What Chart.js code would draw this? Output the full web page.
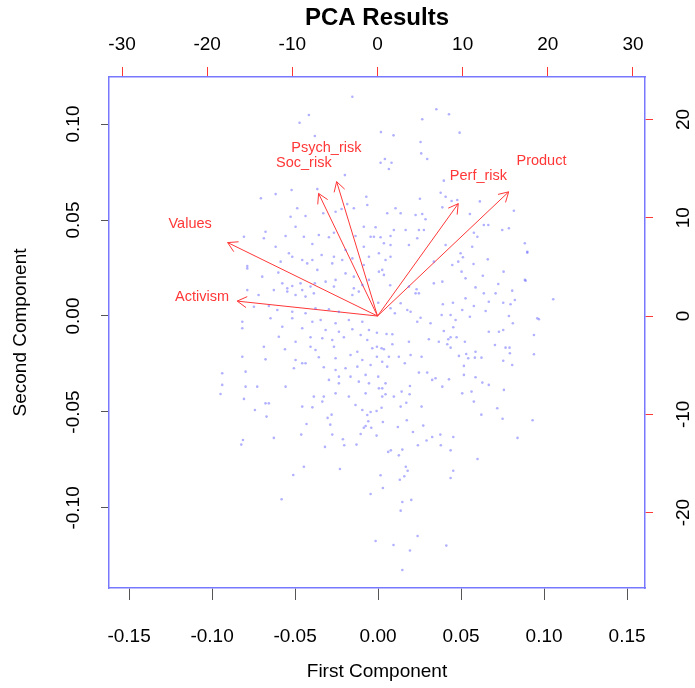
<!DOCTYPE html>
<html>
<head>
<meta charset="utf-8">
<script src="https://cdn.jsdelivr.net/npm/chart.js@4"></script>
<style>
  body { margin: 0; background: #fff; }
  canvas { display: block; }
</style>
</head>
<body>
<canvas id="biplot" width="695" height="688"></canvas>
<script>
// Scores (first / second component), read on the bottom and left axes
const scoresX = [
  -0.0155, -0.0417, -0.0473, -0.0381, -0.0200, -0.0521, -0.0617, -0.0366, -0.0706, -0.0071,
  -0.0186, -0.0487, -0.0220, -0.0065, -0.0330, -0.0527, -0.0437, -0.0256, -0.0497, -0.0678,
  -0.0808, -0.0557, -0.0447, -0.0357, -0.0296, -0.0266, -0.0136, -0.0045, -0.0688, -0.0617,
  -0.0396, -0.0086, -0.0788, -0.0698, -0.0788, -0.0628, -0.0720,
  0.0351, 0.0427, 0.0266, 0.0017, 0.0093, 0.0491, 0.0256, 0.0260, 0.0296, 0.0041,
  0.0015, 0.0081, 0.0065, 0.0396, 0.0377, 0.0407, 0.0443, 0.0477, 0.0252, 0.0613,
  0.0387, 0.0818, 0.0105, 0.0136, 0.0226, 0.0266, 0.0553, 0.0286, 0.0637, 0.0664,
  0.0788, 0.0748, 0.0166, 0.0246, 0.0276, 0.0577, 0.0598, 0.0075, 0.0015, 0.0236,
  0.0186, 0.0407, 0.0567, 0.0884, 0.0075, -0.0015,
  0.1055, 0.0899, 0.0959, 0.0889,
  -0.0788, -0.0601, -0.0537, -0.0457, -0.0396, -0.0340, -0.0276, -0.0216, -0.0155, -0.0055,
  -0.0577, -0.0517, -0.0547, -0.0457, -0.0407, -0.0381, -0.0316, -0.0256, -0.0196, -0.0146,
  -0.0095, -0.0055, -0.0497, -0.0437, -0.0387, -0.0155, -0.0116, -0.0748, -0.0658, -0.0607,
  -0.0517, -0.0437, -0.0377, -0.0296, -0.0236, -0.0818, -0.0648, -0.0517, -0.0396, -0.0346,
  -0.0256, -0.0176, -0.0095, -0.0577, -0.0457, -0.0316, -0.0236, -0.0155, -0.0055, -0.0598,
  -0.0497, -0.0407, -0.0336, -0.0276, -0.0206, -0.0105, -0.0065, -0.0688, -0.0561, -0.0407,
  -0.0377, -0.0266, -0.0125, -0.0035, -0.0818, -0.0678, -0.0497, -0.0457, -0.0437, -0.0357,
  -0.0256, -0.0166, -0.0095, -0.0045, -0.0507, -0.0327, -0.0256, -0.0196, -0.0125, -0.0939,
  -0.0798, -0.0236, -0.0166, -0.0075, -0.0939, -0.0798, -0.0728, -0.0557, -0.0296, -0.0236,
  -0.0116, -0.0055, -0.0949, -0.0387, -0.0327, -0.0256, -0.0176, -0.0075, -0.0678, -0.0658,
  -0.0457, -0.0396, -0.0336, -0.0136, -0.0818,
  0.0497, 0.0511, 0.0899, 0.0005, 0.0045, 0.0336, 0.0447, 0.0483, 0.0575, 0.0661,
  0.0756, 0.0005, 0.0035, 0.0503, 0.0527, 0.0631, 0.0884, 0.0073, 0.0186, 0.0336,
  0.0387, 0.0724, 0.0232, 0.0587, 0.0808, 0.0226, 0.0246, 0.0527, 0.0637, 0.0708,
  0.0824, 0.0001, 0.0136, 0.0390, 0.0451, 0.0577, 0.0667, 0.0754, 0.0798, 0.0075,
  0.0176, 0.0507, 0.0648, 0.0196, 0.0101, 0.0383, 0.0437, 0.0553, 0.0788, 0.0969,
  0.0256, 0.0316, 0.0467, 0.0812, 0.0236, 0.0453, 0.0396, 0.0667, 0.0728, 0.0754,
  -0.0007, 0.0051, 0.0086, 0.0437, 0.0473, 0.0306, 0.0939, 0.0186, 0.0366, 0.0423,
  0.0523, 0.0417, 0.0704, 0.0086, -0.0007, 0.0021, 0.0035, 0.0437, 0.0768, 0.0792,
  0.0196, 0.0587, 0.0487, 0.0531, -0.0007, 0.0065, 0.0125, 0.0262, 0.0543, 0.0583,
  0.0623, 0.0794, 0.0939, 0.0025, 0.0161, 0.0754, 0.0517, 0.0808, 0.0055, 0.0246,
  0.0296, 0.0001, 0.0346, 0.0517, 0.0587, 0.0326, 0.0427, 0.0628, 0.0045, 0.0192,
  0.0667, 0.0005, 0.0025, 0.0387, 0.0758, 0.0045, 0.0095, 0.0190, 0.0507, 0.0142,
  0.0563, 0.0025, 0.0170, 0.0577, 0.0021, 0.0262, 0.0718, 0.0136,
  -0.0742, -0.0672, -0.0280, -0.0304, -0.0045, -0.0065, -0.0095, -0.0059, -0.0431, -0.0288,
  -0.0075, -0.0041, -0.0086, -0.0628, -0.0463, -0.0276, -0.0105, -0.0814, -0.0824, -0.0212,
  -0.0320, -0.0204, -0.0130, -0.0447, -0.0230, -0.0511, -0.0045, -0.0581, -0.0015,
  -0.0009, 0.0029, 0.0173, 0.0272, 0.0119, 0.0210, 0.0622, 0.0750, 0.0931, -0.0009,
  0.0326, 0.0375, 0.0453, 0.0292, 0.0840, 0.0240, 0.0378, 0.0077, 0.0061, 0.0146,
  0.0437, 0.0125, 0.0599, 0.0167, 0.0178, 0.0453, 0.0015, 0.0158, 0.0437, 0.0131,
  0.0029, 0.0200, 0.0146, 0.0136, 0.0238, 0.0093, 0.0411, 0.0192, 0.0146,
  -0.0808,
  -0.0196, -0.0086, -0.0146, -0.0266, 0.0025, 0.0075, 0.0095, 0.0055, -0.0146, -0.0086,
  -0.0025, 0.0035, -0.0266, -0.0366, -0.0427, -0.0517, -0.0587, -0.0467, -0.0547
];
const scoresY = [
  0.1142, 0.1047, 0.1007, 0.0938, 0.0734, 0.0656, 0.0635, 0.0661, 0.0613, 0.0621,
  0.0583, 0.0561, 0.0557, 0.0578, 0.0535, 0.0517, 0.0521, 0.0543, 0.0465, 0.0439,
  0.0413, 0.0417, 0.0413, 0.0422, 0.0410, 0.0434, 0.0417, 0.0413, 0.0405, 0.0361,
  0.0375, 0.0361, 0.0248, 0.0205, 0.0135, 0.0135, 0.0109,
  0.1077, 0.1051, 0.1025, 0.0958, 0.0941, 0.0955, 0.0906, 0.0847, 0.0818, 0.0818,
  0.0798, 0.0798, 0.0766, 0.0705, 0.0642, 0.0621, 0.0599, 0.0604, 0.0611, 0.0597,
  0.0566, 0.0548, 0.0561, 0.0535, 0.0526, 0.0531, 0.0531, 0.0504, 0.0474, 0.0474,
  0.0457, 0.0448, 0.0448, 0.0448, 0.0448, 0.0434, 0.0413, 0.0417, 0.0410, 0.0405,
  0.0370, 0.0370, 0.0361, 0.0379, 0.0370, 0.0462,
  0.0087, 0.0330, -0.0012, 0.0184,
  0.0260, 0.0226, 0.0327, 0.0292, 0.0292, 0.0318, 0.0274, 0.0292, 0.0300, 0.0309,
  0.0170, 0.0156, 0.0127, 0.0135, 0.0153, 0.0170, 0.0179, 0.0188, 0.0222, 0.0144,
  0.0161, 0.0188, 0.0109, 0.0101, 0.0118, 0.0109, 0.0127, 0.0048, 0.0052, 0.0031,
  0.0022, 0.0014, 0.0040, 0.0035, 0.0022, -0.0030, -0.0012, -0.0012, -0.0030, -0.0021,
  -0.0038, -0.0021, -0.0030, -0.0056, -0.0064, -0.0073, -0.0082, -0.0069, -0.0073, -0.0108,
  -0.0134, -0.0111, -0.0116, -0.0125, -0.0111, -0.0099, -0.0125, -0.0160, -0.0173, -0.0160,
  -0.0177, -0.0160, -0.0186, -0.0168, -0.0212, -0.0226, -0.0229, -0.0246, -0.0246, -0.0215,
  -0.0220, -0.0203, -0.0229, -0.0255, -0.0272, -0.0267, -0.0281, -0.0272, -0.0264, -0.0298,
  -0.0290, -0.0316, -0.0316, -0.0307, -0.0359, -0.0368, -0.0368, -0.0368, -0.0333, -0.0351,
  -0.0342, -0.0351, -0.0406, -0.0420, -0.0420, -0.0403, -0.0420, -0.0403, -0.0455, -0.0455,
  -0.0472, -0.0476, -0.0446, -0.0464, -0.0064,
  0.0327, 0.0306, 0.0335, 0.0327, 0.0292, 0.0283, 0.0266, 0.0283, 0.0271, 0.0295,
  0.0231, 0.0231, 0.0214, 0.0231, 0.0196, 0.0210, 0.0188, 0.0160, 0.0153, 0.0170,
  0.0179, 0.0167, 0.0139, 0.0149, 0.0132, 0.0118, 0.0118, 0.0092, 0.0118, 0.0118,
  0.0083, 0.0069, 0.0066, 0.0061, 0.0069, 0.0052, 0.0074, 0.0069, 0.0061, 0.0040,
  0.0031, 0.0031, 0.0026, 0.0022, 0.0014, 0.0005, 0.0005, -0.0004, 0.0000, -0.0017,
  -0.0009, -0.0038, -0.0021, -0.0038, -0.0030, -0.0059, -0.0078, -0.0082, -0.0082, -0.0073,
  -0.0087, -0.0094, -0.0095, -0.0111, -0.0111, -0.0121, -0.0099, -0.0134, -0.0134, -0.0121,
  -0.0134, -0.0147, -0.0151, -0.0147, -0.0160, -0.0168, -0.0173, -0.0165, -0.0165, -0.0165,
  -0.0203, -0.0186, -0.0208, -0.0198, -0.0212, -0.0212, -0.0212, -0.0212, -0.0220, -0.0217,
  -0.0217, -0.0194, -0.0199, -0.0238, -0.0246, -0.0233, -0.0260, -0.0255, -0.0264, -0.0295,
  -0.0295, -0.0316, -0.0324, -0.0307, -0.0319, -0.0333, -0.0330, -0.0347, -0.0351, -0.0365,
  -0.0359, -0.0377, -0.0377, -0.0368, -0.0385, -0.0408, -0.0420, -0.0408, -0.0403, -0.0394,
  -0.0394, -0.0420, -0.0452, -0.0446, -0.0478, -0.0472, -0.0481, -0.0472,
  -0.0490, -0.0524, -0.0514, -0.0531, -0.0500, -0.0516, -0.0490, -0.0548, -0.0563, -0.0566,
  -0.0573, -0.0582, -0.0582, -0.0635, -0.0618, -0.0618, -0.0615, -0.0646, -0.0670, -0.0642,
  -0.0682, -0.0673, -0.0670, -0.0785, -0.0797, -0.0828, -0.0927, -0.0955, -0.1172,
  -0.0495, -0.0552, -0.0543, -0.0571, -0.0578, -0.0604, -0.0514, -0.0535, -0.0543, -0.0623,
  -0.0630, -0.0618, -0.0630, -0.0649, -0.0635, -0.0673, -0.0673, -0.0700, -0.0708, -0.0696,
  -0.0700, -0.0726, -0.0745, -0.0785, -0.0806, -0.0806, -0.0830, -0.0835, -0.0844, -0.0853,
  -0.0896, -0.0958, -0.0969, -0.1014, -0.1146, -0.1193, -0.1196, -0.1222, -0.1323,
  -0.0432,
  0.0344, 0.0266, 0.0205, 0.0153, 0.0240, 0.0309, 0.0448, 0.0535, 0.0561, 0.0465,
  0.0413, 0.0379, 0.0309, 0.0240, 0.0274, 0.0309, 0.0283, 0.0170, 0.0144
];

// Variable loadings, read on the top and right axes
const varNames = ['Product', 'Perf_risk', 'Psych_risk', 'Soc_risk', 'Values', 'Activism'];
const loadX = [19.25, 11.85, -6.0, -8.65, -22.0, -20.6];
const loadY = [15.8, 14.3, 17.1, 15.6, 9.35, 1.9];

// Axis ticks
const scoreTicksX = [-0.15, -0.10, -0.05, 0.00, 0.05, 0.10, 0.15];
const scoreTicksY = [-0.10, -0.05, 0.00, 0.05, 0.10];
const loadTicksX = [-30, -20, -10, 0, 10, 20, 30];
const loadTicksY = [-20, -10, 0, 10, 20];

const fontFam = "'Liberation Sans', Arial, sans-serif";
const boxColor = 'rgb(120,120,255)';
const red = 'rgb(255,55,55)';

Chart.defaults.font.family = fontFam;
Chart.defaults.color = '#000';

const points = scoresX.map((x, i) => ({ x: x, y: scoresY[i] }));

// arrow shafts go to 0.8 of the loading, label sits at the loading itself
const arrowSets = varNames.map((name, i) => ({
    label: name,
    type: 'line',
    xAxisID: 'x2',
    yAxisID: 'y2',
    data: [{ x: 0, y: 0 }, { x: loadX[i] * 0.8, y: loadY[i] * 0.8 }],
    borderColor: red,
    borderWidth: 1,
    pointRadius: 0,
    fill: false
}));

function fixedTicks(values) {
    return scale => { scale.ticks = values.map(v => ({ value: v })); };
}

const arrowHeads = {
    id: 'arrowHeads',
    afterDatasetsDraw(chart) {
        const { ctx, scales } = chart;
        const sx = scales.x2, sy = scales.y2;
        const x0 = sx.getPixelForValue(0), y0 = sy.getPixelForValue(0);
        ctx.save();
        ctx.strokeStyle = red;
        ctx.fillStyle = red;
        ctx.lineWidth = 1;
        ctx.font = '14.5px ' + fontFam;
        ctx.textAlign = 'center';
        ctx.textBaseline = 'middle';
        const len = 11;
        varNames.forEach((name, i) => {
            const tx = sx.getPixelForValue(loadX[i] * 0.8);
            const ty = sy.getPixelForValue(loadY[i] * 0.8);
            const a = Math.atan2(ty - y0, tx - x0);
            ctx.beginPath();
            ctx.moveTo(tx - len * Math.cos(a - Math.PI / 6), ty - len * Math.sin(a - Math.PI / 6));
            ctx.lineTo(tx, ty);
            ctx.lineTo(tx - len * Math.cos(a + Math.PI / 6), ty - len * Math.sin(a + Math.PI / 6));
            ctx.stroke();
            ctx.fillText(name, sx.getPixelForValue(loadX[i]), sy.getPixelForValue(loadY[i]));
        });
        ctx.restore();
    }
};

new Chart(document.getElementById('biplot'), {
    type: 'scatter',
    data: {
        datasets: [
            {
                label: 'scores',
                data: points,
                xAxisID: 'x',
                yAxisID: 'y',
                backgroundColor: 'rgba(100,100,255,0.5)',
                borderWidth: 0,
                pointRadius: 1.3,
                pointHoverRadius: 1.3
            },
            ...arrowSets
        ]
    },
    options: {
        responsive: false,
        animation: false,
        devicePixelRatio: 1,
        layout: { padding: 0 },
        plugins: {
            legend: { display: false },
            tooltip: { enabled: false }
        },
        scales: {
            x: {
                type: 'linear',
                position: 'bottom',
                min: -0.1621,
                max: 0.1608,
                afterBuildTicks: fixedTicks(scoreTicksX),
                afterFit: s => { s.height = 100; },
                border: { display: true, color: boxColor, width: 1.5 },
                grid: { display: true, drawOnChartArea: false, tickLength: 12, tickColor: '#555' },
                ticks: { padding: 25, font: { size: 19 }, callback: v => v.toFixed(2) },
                title: { display: true, text: 'First Component', font: { size: 19 }, padding: { top: 0, bottom: 5 } }
            },
            x2: {
                type: 'linear',
                position: 'top',
                min: -31.53,
                max: 31.41,
                afterBuildTicks: fixedTicks(loadTicksX),
                afterFit: s => { s.height = 77; },
                border: { display: true, color: boxColor, width: 1.5 },
                grid: { display: true, drawOnChartArea: false, tickLength: 10, tickColor: red },
                ticks: { padding: 11, font: { size: 19 }, callback: v => String(v) },
                title: { display: true, text: 'PCA Results', font: { size: 24, weight: 'bold' }, padding: { top: 4, bottom: 0 } }
            },
            y: {
                type: 'linear',
                position: 'left',
                min: -0.1417,
                max: 0.1245,
                afterBuildTicks: fixedTicks(scoreTicksY),
                afterFit: s => { s.width = 109; },
                border: { display: true, color: boxColor, width: 1.5 },
                grid: { display: true, drawOnChartArea: false, tickLength: 8, tickColor: '#555' },
                ticks: { padding: 6, minRotation: 90, maxRotation: 90, crossAlign: 'center', font: { size: 19 }, callback: v => v.toFixed(2) },
                title: { display: true, text: 'Second Component', font: { size: 19 }, padding: { top: 9, bottom: 0 } }
            },
            y2: {
                type: 'linear',
                position: 'right',
                min: -27.68,
                max: 24.33,
                afterBuildTicks: fixedTicks(loadTicksY),
                afterFit: s => { s.width = 50; },
                border: { display: true, color: boxColor, width: 1.5 },
                grid: { display: true, drawOnChartArea: false, tickLength: 8, tickColor: red },
                ticks: { padding: 17, minRotation: 90, maxRotation: 90, crossAlign: 'center', font: { size: 19 }, callback: v => String(v) }
            }
        }
    },
    plugins: [arrowHeads]
});
</script>
</body>
</html>
